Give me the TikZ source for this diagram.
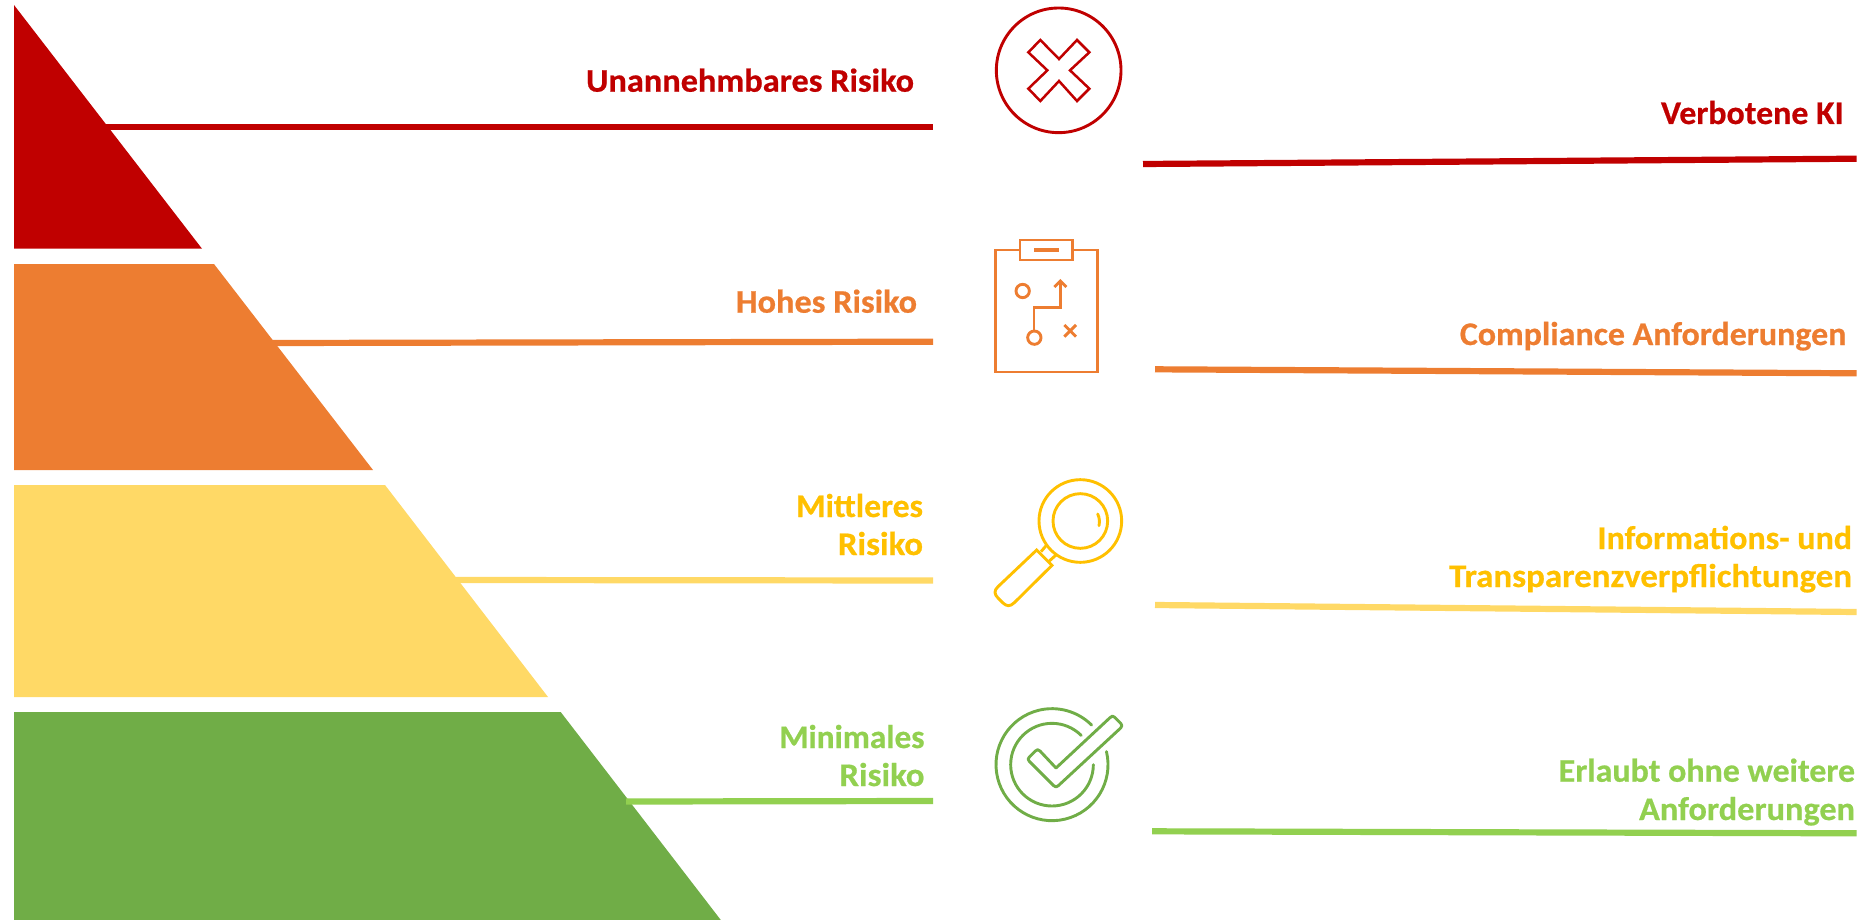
\documentclass[tikz,border=0pt]{standalone}
\usepackage{fontspec}
\usepackage{graphicx}
\setmainfont{Carlito}[BoldFont={Carlito Bold},BoldFeatures={FakeBold=0.6,FakeStretch=1.04}]
\definecolor{cRed}{HTML}{C00000}
\definecolor{cOrange}{HTML}{ED7D31}
\definecolor{cYellow}{HTML}{FFD966}
\definecolor{cGold}{HTML}{FFC000}
\definecolor{cGreen}{HTML}{70AD47}
\definecolor{cLime}{HTML}{92D050}
\newcommand{\wdtweak}[2]{\scalebox{#1}[1]{#2}}
\tikzset{
  lbl/.style={anchor=base east,inner sep=0pt,outer sep=0pt,font=\fontsize{33}{33}\selectfont\bfseries},
  rule/.style={line width=6.2pt,line cap=butt},
  icon/.style={line width=2.9pt,line join=miter,fill=none},
  iconround/.style={icon,line cap=round,line join=round}
}
\begin{document}
\begin{tikzpicture}[x=1pt,y=-1pt]
\useasboundingbox (0,0) rectangle (1865,920);
% pyramid
\fill[cRed] (14,5) -- (202,248.7) -- (14,248.7) -- cycle;
\fill[cOrange] (14,264) -- (214,264) -- (373,470) -- (14,470) -- cycle;
\fill[cYellow] (14,485) -- (385,485) -- (548,697) -- (14,697) -- cycle;
\fill[cGreen] (14,712) -- (560.7,712) -- (720.8,920) -- (14,920) -- cycle;
% connector ends
\coordinate (a1) at (105,126.7); \coordinate (a2) at (933,126.7);
\coordinate (b1) at (272,343);   \coordinate (b2) at (933,341.7);
\coordinate (c1) at (456,580);   \coordinate (c2) at (933,580.5);
\coordinate (d1) at (626,801.5); \coordinate (d2) at (933,801);
\coordinate (e1) at (1143,164);  \coordinate (e2) at (1856.6,158.7);
\coordinate (f1) at (1155,369.3);\coordinate (f2) at (1856.6,373.3);
\coordinate (g1) at (1155,605);  \coordinate (g2) at (1856.6,612);
\coordinate (h1) at (1152,831.3);\coordinate (h2) at (1856.6,833.3);
\draw[rule,cRed] (a1) -- (a2);
\draw[rule,cOrange] (b1) -- (b2);
\draw[rule,cYellow] (c1) -- (c2);
\draw[rule,cLime] (d1) -- (d2);
\draw[rule,cRed] (e1) -- (e2);
\draw[rule,cOrange] (f1) -- (f2);
\draw[rule,cYellow] (g1) -- (g2);
\draw[rule,cLime] (h1) -- (h2);
% labels
\node[lbl,text=cRed] (t1) at (914,91.7) {Unannehmbares Risiko};
\node[lbl,text=cOrange] (t2) at (917,312.7) {Hohes Risiko};
\node[lbl,text=cGold] (t3a) at (923,517) {\wdtweak{.98}{Mittleres}};
\node[lbl,text=cGold] (t3b) at (923,555) {\wdtweak{1.015}{Risiko}};
\node[lbl,text=cLime] (t4a) at (924.5,748) {\wdtweak{.97}{Minimales}};
\node[lbl,text=cLime] (t4b) at (924.5,786) {\wdtweak{1.015}{Risiko}};
\node[lbl,text=cRed] (r1) at (1843.6,124) {\wdtweak{.987}{Verbotene KI}};
\node[lbl,text=cOrange] (r2) at (1846.4,345) {\wdtweak{.99}{Compliance Anforderungen}};
\node[lbl,text=cGold] (r3a) at (1852,549) {\wdtweak{.99}{Informations- und}};
\node[lbl,text=cGold] (r3b) at (1852,587) {\wdtweak{1.018}{Transparenzverpflichtungen}};
\node[lbl,text=cLime] (r4a) at (1855,781.7) {\wdtweak{.988}{Erlaubt ohne weitere}};
\node[lbl,text=cLime] (r4b) at (1855,820) {Anforderungen};
% icon: cross
\begin{scope}[shift={(960,0)},x=0.33333pt,y=-0.33333pt]
\draw[icon,cRed] (296,211) circle[radius=187];
\draw[icon,cRed,line width=2.5pt] (241,120) -- (297,177) -- (351,120) -- (388,157) -- (330,211) -- (388,266) -- (351,303) -- (297,243) -- (241,303) -- (205,266) -- (262,211) -- (205,157) -- cycle;
% icon: clipboard
\draw[icon,cOrange] (180,750) -- (106,750) -- (106,1116) -- (413,1116) -- (413,750) -- (338,750);
\draw[icon,cOrange] (180,720) rectangle (338,780);
\draw[cOrange,line width=4pt] (222,750) -- (296,750);
\draw[icon,cOrange] (188,873) circle[radius=20];
\draw[icon,cOrange] (223,1013) circle[radius=20];
\draw[icon,cOrange] (222,993) -- (222,922) -- (301,922) -- (301,845);
\draw[icon,cOrange] (283,861) -- (301,843) -- (319,861);
\draw[icon,cOrange] (313,975) -- (348,1010);
\draw[icon,cOrange] (348,975) -- (313,1010);
\end{scope}
% icon: magnifier
\begin{scope}[shift={(960,460)},x=0.33333pt,y=-0.33333pt]
\draw[icon,cGold] (361,183) circle[radius=124];
\draw[icon,cGold] (361,183) circle[radius=82];
\draw[iconround,cGold] (413,162) .. controls (419,174) and (419,186) .. (417,197);
\draw[icon,cGold] (260,255) -- (243,275);
\draw[icon,cGold] (288,285) -- (268,303);
\draw[icon,cGold] (230,270) -- (276,316) -- (163,428) .. controls (150,441) and (139,439) .. (128,428) -- (114,414) .. controls (103,403) and (101,392) .. (114,380) -- cycle;
% icon: check
\draw[iconround,cGreen] (276,914) ++(-13.5:168) arc[start angle=-13.5,end angle=315,radius=168];
\draw[iconround,cGreen] (276,914) ++(0:124) arc[start angle=0,end angle=315,radius=124] ;
\draw[iconround,cGreen] (288,924) -- (450,773) .. controls (455,767) and (459,767) .. (464,772) -- (482,790) .. controls (487,795) and (487,799) .. (482,804) -- (295,977) .. controls (290,982) and (286,982) .. (281,977) -- (208,904) .. controls (203,899) and (203,896) .. (208,891) -- (226,873) .. controls (231,868) and (235,868) .. (240,873) -- cycle;
\end{scope}
\end{tikzpicture}
\end{document}
